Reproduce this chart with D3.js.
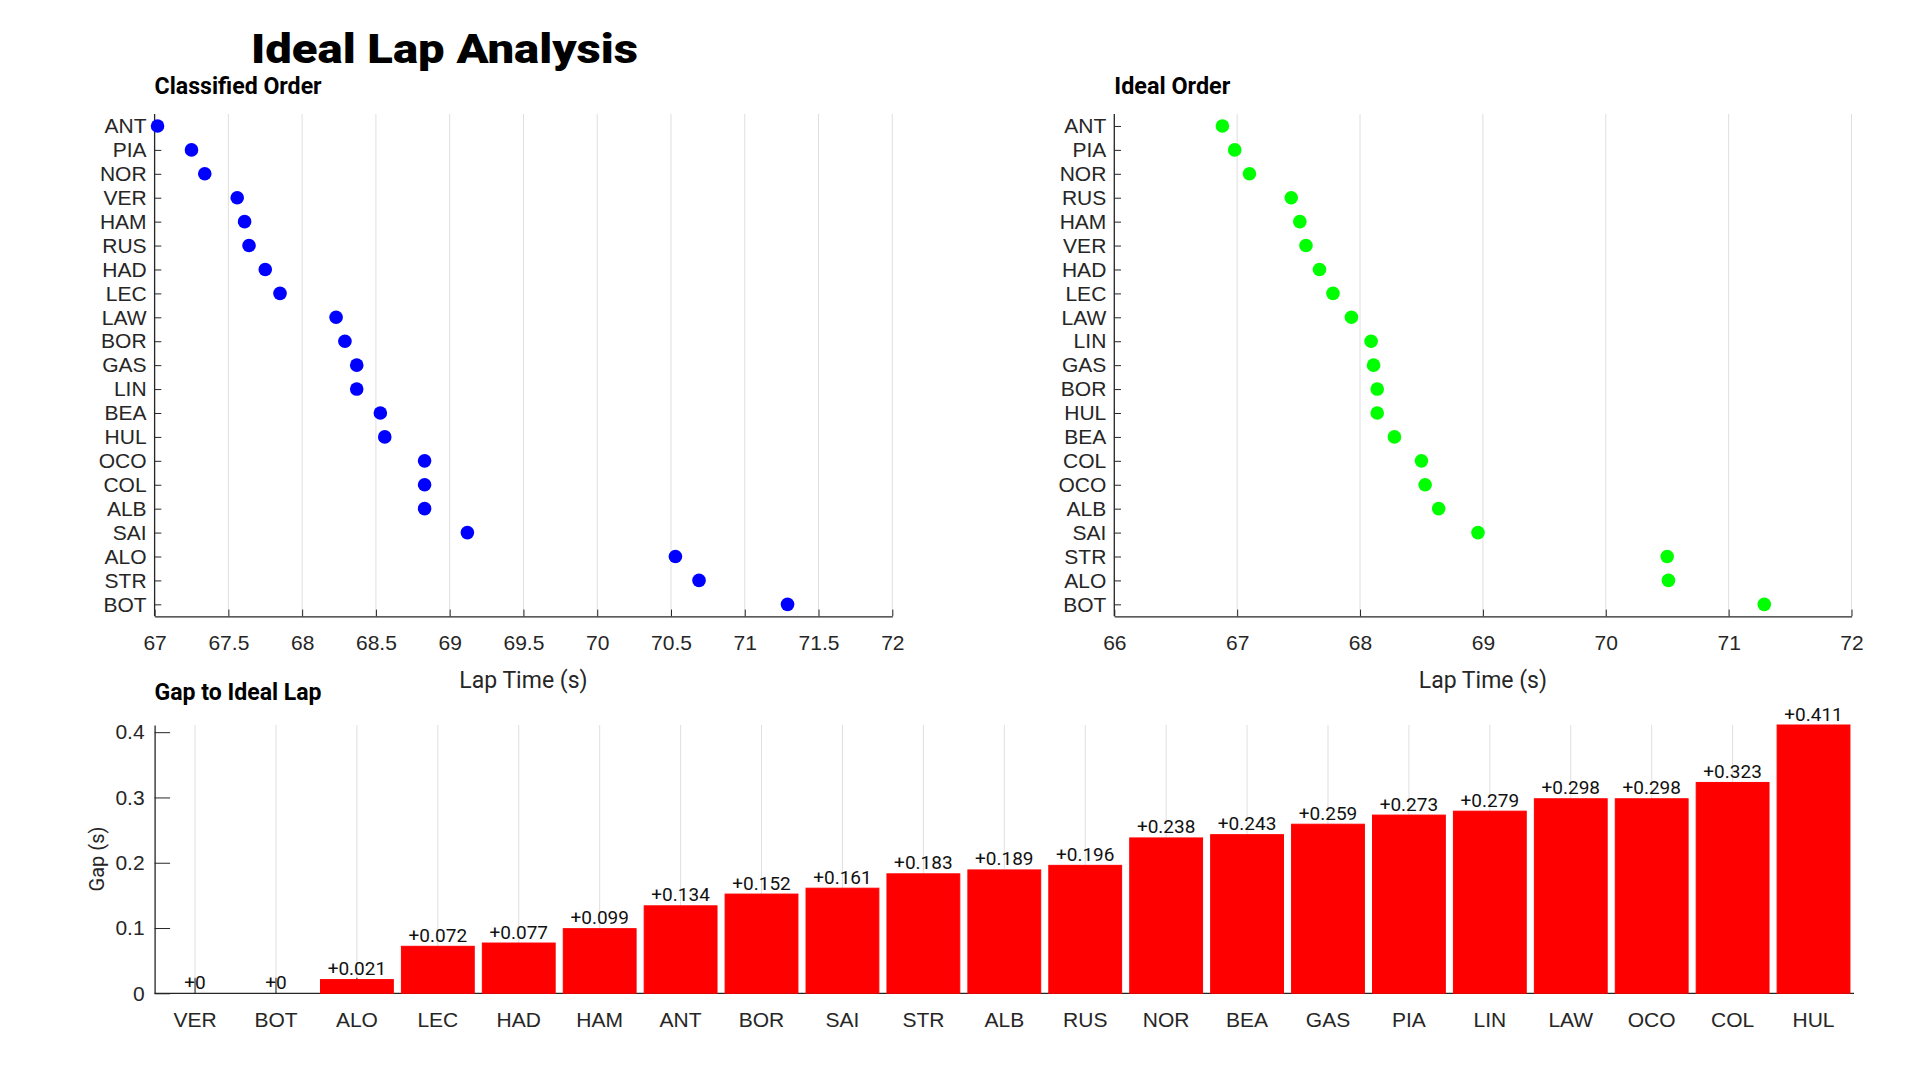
<!DOCTYPE html>
<html>
<head>
<meta charset="utf-8">
<script src="https://cdn.jsdelivr.net/npm/d3@7"></script>
<style>
  body { margin: 0; background: #fff; }
  svg { display: block; font-family: Roboto, "Open Sans", sans-serif; }
</style>
</head>
<body>
<svg id="chart" width="1920" height="1080"></svg>
<script>
// classified order (top to bottom) and lap times in s
let classifiedDrivers = ["ANT","PIA","NOR","VER","HAM","RUS","HAD","LEC","LAW","BOR","GAS",
                         "LIN","BEA","HUL","OCO","COL","ALB","SAI","ALO","STR","BOT"]
let classifiedTimes = [67.02, 67.25, 67.34, 67.56, 67.61, 67.64, 67.75, 67.85, 68.23, 68.29, 68.37,
                       68.37, 68.53, 68.56, 68.83, 68.83, 68.83, 69.12, 70.53, 70.69, 71.29]

// ideal order and ideal lap times in s
let idealDrivers = ["ANT","PIA","NOR","RUS","HAM","VER","HAD","LEC","LAW","LIN","GAS",
                    "BOR","HUL","BEA","COL","OCO","ALB","SAI","STR","ALO","BOT"]
let idealTimes = [66.88, 66.98, 67.10, 67.44, 67.51, 67.56, 67.67, 67.78, 67.93, 68.09, 68.11,
                  68.14, 68.14, 68.28, 68.50, 68.53, 68.64, 68.96, 70.50, 70.51, 71.29]

// gap to ideal lap, sorted
let gapDrivers = ["VER","BOT","ALO","LEC","HAD","HAM","ANT","BOR","SAI","STR","ALB",
                  "RUS","NOR","BEA","GAS","PIA","LIN","LAW","OCO","COL","HUL"]
let gapValues = [0, 0, 0.021, 0.072, 0.077, 0.099, 0.134, 0.152, 0.161, 0.183, 0.189,
                 0.196, 0.238, 0.243, 0.259, 0.273, 0.279, 0.298, 0.298, 0.323, 0.411]

let classifiedTicks = d3.range(67, 72.01, 0.5)
let idealTicks = d3.range(66, 72.01, 1)
let gapTicks = [0, 0.1, 0.2, 0.3, 0.4]

let axisColor = "#262626", gridColor = "#dfdfdf"

let svg = d3.select("#chart")

// main title
svg.append("text")
    .attr("x", 251).attr("y", 63)
    .attr("textLength", 387).attr("lengthAdjust", "spacingAndGlyphs")
    .style("font-size", "40px").style("font-weight", 900)
    .attr("fill", "#000")
    .text("Ideal Lap Analysis")

function subTitle(x, y, txt, len) {
    svg.append("text")
        .attr("x", x).attr("y", y)
        .attr("textLength", len).attr("lengthAdjust", "spacingAndGlyphs")
        .style("font-size", "23px").style("font-weight", 700)
        .attr("fill", "#000")
        .text(txt)
}

// dot panel: lap time vs driver
function dotPanel(left, right, drivers, times, ticks, xdomain, color, title, titleLen, fmt) {
    let top = 114, bottom = 616.3
    let g = svg.append("g")

    let xScale = d3.scaleLinear().domain(xdomain).range([left, right])
    let yScale = d3.scalePoint().domain(drivers).range([top, bottom]).padding(0.5)

    // vertical grid
    g.selectAll(".grid")
        .data(ticks)
        .join("line")
        .attr("x1", d => xScale(d)).attr("x2", d => xScale(d))
        .attr("y1", top).attr("y2", bottom)
        .attr("stroke", gridColor).attr("stroke-width", 1)

    // x axis, ticks pointing inward like matlab
    let xAxis = g.append("g")
        .attr("transform", "translate(0," + bottom + ")")
        .call(d3.axisBottom(xScale).tickValues(ticks).tickFormat(fmt)
            .tickSizeInner(-6.7).tickSizeOuter(0).tickPadding(26))
    xAxis.select(".domain").attr("stroke", axisColor).attr("stroke-width", 1.3)
    xAxis.selectAll(".tick line").attr("stroke", axisColor)
    xAxis.selectAll("text").style("font-size", "21px").attr("fill", axisColor).attr("dy", "0.35em")

    // y axis
    let yAxis = g.append("g")
        .attr("transform", "translate(" + left + ",0)")
        .call(d3.axisLeft(yScale).tickSizeInner(-6.7).tickSizeOuter(0).tickPadding(8))
    yAxis.select(".domain").attr("d", "M0," + top + "V" + bottom)
        .attr("stroke", axisColor).attr("stroke-width", 1.3)
    yAxis.selectAll(".tick line").attr("stroke", axisColor)
    yAxis.selectAll("text").style("font-size", "21px").attr("fill", axisColor)

    // points
    g.selectAll(".dot")
        .data(drivers)
        .join("circle")
        .attr("class", "dot")
        .attr("cx", (d, i) => xScale(times[i]))
        .attr("cy", d => yScale(d))
        .attr("r", 6.8)
        .attr("fill", color)

    // x label
    g.append("text")
        .attr("x", (left + right) / 2).attr("y", 688)
        .attr("text-anchor", "middle")
        .style("font-size", "23px").attr("fill", axisColor)
        .text("Lap Time (s)")

    subTitle(left, 94.3, title, titleLen)
}

dotPanel(154.6, 892.3, classifiedDrivers, classifiedTimes, classifiedTicks, [67, 72], "#0000ff",
    "Classified Order", 167, d => d3.format("")(+d.toFixed(1)))
dotPanel(1114.3, 1851.5, idealDrivers, idealTimes, idealTicks, [66, 72], "#00ff00",
    "Ideal Order", 116, d3.format("d"))

// bar panel: gap to ideal
let bLeft = 154.6, bRight = 1854, bTop = 725, bBottom = 993.3
let xBand = d3.scaleBand().domain(gapDrivers).range([bLeft, bRight])
    .paddingInner(0.1).paddingOuter(0.05)
let yGap = d3.scaleLinear().domain([0, d3.max(gapValues)]).range([bBottom, bTop])

let bars = svg.append("g")

bars.selectAll(".grid")
    .data(gapDrivers)
    .join("line")
    .attr("x1", d => xBand(d) + xBand.bandwidth() / 2)
    .attr("x2", d => xBand(d) + xBand.bandwidth() / 2)
    .attr("y1", bTop).attr("y2", bBottom)
    .attr("stroke", gridColor).attr("stroke-width", 1)

let gx = bars.append("g")
    .attr("transform", "translate(0," + bBottom + ")")
    .call(d3.axisBottom(xBand).tickSizeInner(-15.5).tickSizeOuter(0).tickPadding(26))
gx.select(".domain").attr("d", "M" + bLeft + ",0H" + bRight)
    .attr("stroke", axisColor).attr("stroke-width", 1.3)
gx.selectAll(".tick line").attr("stroke", axisColor)
gx.selectAll("text").style("font-size", "21px").attr("fill", axisColor).attr("dy", "0.35em")

bars.selectAll(".bar")
    .data(gapDrivers)
    .join("rect")
    .attr("class", "bar")
    .attr("x", d => xBand(d))
    .attr("width", xBand.bandwidth())
    .attr("y", (d, i) => yGap(gapValues[i]))
    .attr("height", (d, i) => bBottom - yGap(gapValues[i]))
    .attr("fill", "#ff0000")
    .attr("stroke", "#ff0000").attr("stroke-width", 1)

let gy = bars.append("g")
    .attr("transform", "translate(" + bLeft + ",0)")
    .call(d3.axisLeft(yGap).tickValues(gapTicks).tickFormat(d3.format(""))
        .tickSizeInner(-15.5).tickSizeOuter(0).tickPadding(10))
gy.select(".domain").attr("stroke", axisColor).attr("stroke-width", 1.3)
gy.selectAll(".tick line").attr("stroke", axisColor)
gy.selectAll("text").style("font-size", "21px").attr("fill", axisColor)

// value labels above each bar
bars.selectAll(".val")
    .data(gapDrivers)
    .join("text")
    .attr("class", "val")
    .attr("x", d => xBand(d) + xBand.bandwidth() / 2)
    .attr("y", (d, i) => yGap(gapValues[i]) - 4.5)
    .attr("text-anchor", "middle")
    .style("font-size", "19px").attr("fill", "#111")
    .text((d, i) => "+" + (+gapValues[i].toFixed(3)))

// y label
svg.append("text")
    .attr("transform", "translate(104,859) rotate(-90)")
    .attr("text-anchor", "middle")
    .style("font-size", "20px").attr("fill", axisColor)
    .text("Gap (s)")

subTitle(154.6, 700, "Gap to Ideal Lap", 167)
</script>
</body>
</html>
